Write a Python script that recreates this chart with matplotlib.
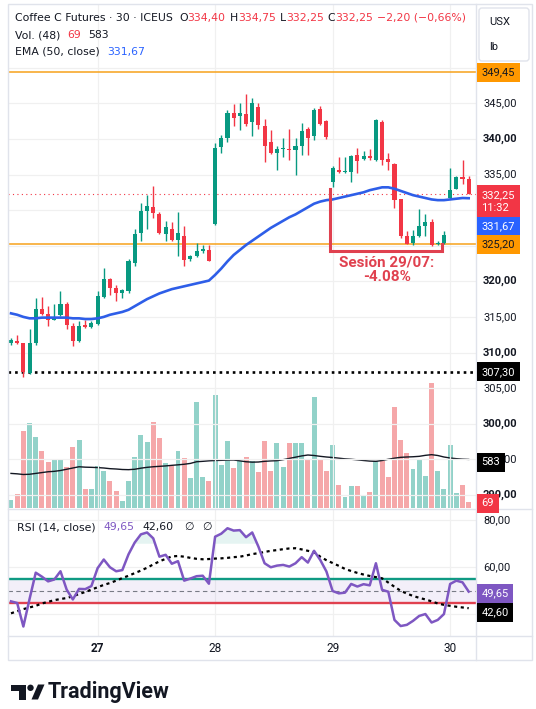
"""Coffee C Futures 30-min chart (TradingView style): candles, EMA50, volume and RSI panes."""
import matplotlib
matplotlib.use("Agg")

import matplotlib.pyplot as plt
import matplotlib.patches as mpatches
import matplotlib.transforms as mtransforms
import numpy as np

plt.rcParams["font.family"] = ["Roboto", "DejaVu Sans"]

W, H = 536, 709
UP, DOWN = "#089981", "#f23645"
VOL_UP, VOL_DOWN = "#92d2c9", "#f5a7a9"
INK = "#131722"
GRID = "#f0f0f0"

# 30-minute bars, oldest first
opens = [311.3, 311.6, 311.3, 307.1, 311.3, 316.1, 315.4, 314.6, 315.2, 316.8,
         313.7, 311.6, 313.8, 313.6, 314.0, 317.8, 320.3, 319.0, 318.4, 318.7,
         322.6, 326.8, 329.9, 330.5, 329.5, 326.7, 327.4, 325.8, 326.4, 323.1,
         323.5, 324.3, 324.4, 328.0, 338.9, 340.1, 343.7, 343.2, 343.5, 342.4,
         344.5, 341.8, 339.5, 338.0, 338.6, 338.6, 338.4, 339.0, 341.4, 340.4,
         344.2, 342.5, 334.0, 335.7, 335.3, 335.3, 337.8, 337.2, 337.6, 337.0,
         342.4, 337.2, 336.5, 331.5, 326.4, 325.4, 326.3, 327.7, 328.3, 325.2,
         325.4, 331.7, 333.0, 334.6, 334.4]
highs = [312.0, 312.5, 311.4, 313.3, 317.6, 317.8, 316.5, 316.8, 318.6, 317.1,
         314.2, 314.4, 314.6, 314.4, 318.6, 321.8, 320.4, 319.5, 318.9, 323.1,
         327.3, 331.0, 332.1, 333.4, 329.8, 328.5, 328.3, 329.7, 327.7, 323.7,
         325.4, 325.1, 325.1, 339.4, 340.6, 344.1, 344.9, 345.0, 346.3, 345.8,
         345.0, 342.8, 341.3, 339.0, 340.1, 341.4, 340.1, 342.2, 341.7, 344.3,
         344.6, 342.6, 336.2, 337.5, 337.5, 337.7, 338.7, 338.3, 338.6, 342.8,
         342.6, 338.0, 336.6, 331.6, 327.1, 327.2, 330.1, 329.4, 328.7, 325.7,
         327.0, 335.9, 334.8, 337.0, 334.75]
lows = [311.0, 311.2, 306.6, 307.0, 311.0, 315.3, 313.7, 314.5, 315.1, 313.3,
        310.9, 311.5, 313.5, 313.4, 313.8, 317.6, 318.1, 317.3, 317.6, 318.3,
        322.1, 325.7, 327.3, 328.9, 326.7, 325.7, 325.6, 323.6, 322.2, 322.9,
        323.4, 324.0, 322.8, 327.9, 338.0, 339.6, 341.8, 341.3, 341.8, 340.4,
        341.4, 336.8, 337.9, 335.6, 337.5, 337.1, 335.0, 337.8, 337.8, 339.9,
        342.0, 340.0, 333.2, 335.2, 335.2, 334.0, 335.2, 337.1, 337.0, 336.9,
        336.4, 335.7, 330.3, 326.1, 325.2, 325.1, 326.2, 326.3, 324.9, 325.1,
        325.3, 331.5, 332.9, 333.7, 332.25]
closes = [311.8, 311.4, 307.2, 311.3, 316.1, 315.4, 314.5, 314.9, 316.8, 313.8,
          311.6, 313.7, 313.6, 314.2, 318.0, 320.3, 319.0, 318.4, 318.8, 322.9,
          326.7, 329.9, 330.6, 329.6, 326.8, 327.6, 325.8, 326.8, 323.0, 323.6,
          324.3, 324.5, 322.9, 338.7, 340.1, 343.7, 342.9, 343.6, 342.1, 345.0,
          341.9, 339.0, 338.0, 338.6, 338.7, 338.5, 339.0, 341.1, 340.1, 344.0,
          342.1, 340.3, 335.9, 335.3, 335.5, 337.6, 336.9, 337.6, 337.3, 342.6,
          337.0, 336.7, 331.4, 326.4, 325.3, 326.3, 327.7, 328.3, 325.1, 325.4,
          326.5, 332.8, 334.6, 334.3, 332.25]
volumes = [97, 168, 920, 1024, 856, 688, 548, 592, 592, 496,
           736, 820, 224, 224, 508, 448, 320, 200, 80, 328,
           616, 880, 788, 1036, 836, 536, 504, 680, 596, 356,
           1276, 376, 320, 1352, 520, 800, 476, 560, 616, 560,
           428, 800, 448, 776, 488, 776, 776, 776, 576, 1328,
           576, 440, 760, 280, 128, 268, 268, 148, 196, 560,
           560, 376, 1216, 820, 664, 468, 576, 388, 1504, 448,
           228, 760, 176, 280, 69]
vol_ma = [415, 410, 402, 405, 415, 425, 435, 440, 450, 465,
          480, 495, 490, 488, 485, 480, 472, 468, 462, 460,
          465, 478, 488, 495, 500, 505, 512, 518, 525, 535,
          555, 560, 566, 570, 572, 575, 576, 566, 555, 550,
          552, 560, 565, 568, 580, 595, 610, 625, 636, 630,
          620, 612, 606, 598, 590, 585, 578, 570, 563, 560,
          570, 585, 598, 608, 612, 615, 620, 632, 640, 630,
          612, 600, 592, 586, 583]
ema50 = [315.5, 315.3, 315.0, 314.8, 314.8, 314.9, 314.9, 314.9, 314.9, 314.9,
         314.8, 314.8, 314.7, 314.7, 314.8, 315.0, 315.3, 315.5, 315.7, 316.0,
         316.5, 317.0, 317.5, 317.9, 318.3, 318.6, 318.9, 319.1, 319.3, 319.5,
         319.7, 319.9, 320.1, 320.9, 321.8, 322.8, 323.7, 324.4, 325.1, 325.7,
         326.3, 326.9, 327.5, 328.0, 328.5, 329.0, 329.4, 329.9, 330.4, 330.9,
         331.2, 331.4, 331.5, 331.7, 331.9, 332.1, 332.3, 332.5, 332.8, 333.0,
         333.2, 333.2, 333.0, 332.7, 332.4, 332.1, 331.9, 331.7, 331.5, 331.4,
         331.4, 331.5, 331.6, 331.7, 331.67]
rsi = [45.5, 44.8, 34.8, 46.5, 57.7, 56.0, 54.0, 54.8, 58.3, 50.5,
       46.3, 50.8, 50.7, 52.0, 59.6, 63.3, 60.0, 58.3, 58.8, 65.5,
       70.5, 74.0, 74.8, 72.3, 64.5, 65.3, 61.5, 62.6, 54.3, 55.2,
       56.2, 56.4, 53.0, 73.0, 74.3, 76.6, 75.6, 75.8, 72.8, 74.8,
       68.8, 61.7, 60.0, 60.7, 61.0, 60.3, 61.7, 64.3, 62.0, 67.0,
       63.1, 58.2, 49.9, 48.9, 49.2, 52.9, 51.8, 52.8, 52.3, 61.7,
       50.4, 49.6, 37.6, 35.0, 35.5, 37.2, 39.3, 40.1, 36.5, 37.6,
       40.1, 52.9, 54.3, 53.6, 49.65]
rsi_ma = [40.4, 41.3, 42.2, 42.9, 43.6, 44.6, 45.3, 46.0, 46.5, 46.9,
          47.7, 48.6, 49.5, 50.5, 51.5, 52.5, 53.3, 54.3, 55.4, 56.4,
          57.5, 58.6, 59.8, 61.2, 62.5, 63.6, 64.6, 64.8, 64.5, 64.0,
          63.6, 63.4, 63.5, 63.7, 63.8, 64.0, 64.3, 64.5, 65.0, 65.6,
          66.0, 66.5, 67.0, 67.3, 67.7, 68.0, 68.1, 67.6, 67.0, 66.4,
          64.5, 63.0, 61.8, 60.6, 59.3, 58.4, 57.6, 56.9, 56.3, 55.8,
          55.3, 53.5, 51.7, 50.0, 48.8, 47.8, 47.0, 46.3, 45.5, 44.6,
          44.0, 43.6, 43.2, 42.9, 42.60]

day_ticks = [14, 33, 52, 71]
day_labels = ["27", "28", "29", "30"]
price_labels = [350, 345, 340, 335, 320, 315, 310, 305, 300, 295, 290]
rsi_labels = [80, 60]
rsi_grid = [80, 60, 40]
LEVEL_HIGH, LEVEL_LOW, LEVEL_BOTTOM = 349.45, 325.20, 307.30
SESSION_START, SESSION_END = 52, 70

idx = np.arange(len(closes))
o, h, l, c = map(np.asarray, (opens, highs, lows, closes))
up = c >= o

fig = plt.figure(figsize=(W / 100, H / 100), dpi=100)


def rect(x0, y0, x1, y1):
    return [x0 / W, 1 - y1 / H, (x1 - x0) / W, (y1 - y0) / H]


# bar i sits at pixel 11 + 6.185*i; panes span x 8..476
X0, X1, PX0, PDX = 8, 476, 11.0, 6.185
xlim = ((X0 - PX0) / PDX, (X1 - PX0) / PDX)

ax_vol = fig.add_axes(rect(X0, 4, X1, 508))
ax = fig.add_axes(rect(X0, 4, X1, 508), sharex=ax_vol)
ax_rsi = fig.add_axes(rect(X0, 508.5, X1, 636), sharex=ax_vol)
ax_fig = fig.add_axes([0, 0, 1, 1], zorder=10)
for a in (ax_vol, ax, ax_rsi, ax_fig):
    a.set_axis_off()
ax_vol.set_xlim(*xlim)
ax.set_ylim(288.16, 358.95)
ax_vol.set_ylim(0, 6048)
ax_rsi.set_ylim(30.76, 85.0)
ax_fig.set_xlim(0, W)
ax_fig.set_ylim(H, 0)

# grid
for p in range(290, 355, 5):
    ax.axhline(p, color=GRID, lw=0.9, zorder=0)
for v in rsi_grid:
    ax_rsi.axhline(v, color=GRID, lw=0.9, zorder=0)
for d in day_ticks:
    ax.axvline(d, color=GRID, lw=0.9, zorder=0)
    ax_rsi.axvline(d, color=GRID, lw=0.9, zorder=0)

# volume
ax_vol.bar(idx, volumes, width=0.8, color=np.where(up, VOL_UP, VOL_DOWN), zorder=1)
ax_vol.plot(idx, vol_ma, color=INK, lw=1.0, zorder=2)

# price
ax.axhline(LEVEL_HIGH, color="#f7a21b", lw=1.1, zorder=1)
ax.axhline(LEVEL_LOW, color="#f7a21b", lw=1.1, zorder=1)
ax.axhline(LEVEL_BOTTOM, color="black", lw=1.9, ls=(0, (1, 1.5)), zorder=1)
ax.axhline(closes[-1], color=DOWN, lw=0.8, ls=(0, (1, 3)), zorder=1)
col = np.where(up, UP, DOWN)
ax.vlines(idx, l, h, colors=col, lw=1.0, zorder=3)
ax.bar(idx, np.maximum(np.abs(c - o), 0.15), bottom=np.minimum(o, c), width=0.66,
       color=col, zorder=4)
ax.plot(idx, ema50, color="#2e5ee8", lw=1.9, zorder=5)

# session annotation
left, right = SESSION_START - 0.35, SESSION_END - 0.35
bottom = min(lows[SESSION_START:SESSION_END + 1]) - 0.65
ax.plot([left, left, right, right],
        [lows[SESSION_START] - 0.2, bottom, bottom, lows[SESSION_END - 1] + 0.2],
        color="#e0414f", lw=2.2, solid_joinstyle="miter", zorder=6)
ax.text(60.8, 321.6, "Sesión 29/07:\n-4.08%", ha="center", va="center",
        color="#e0414f", fontsize=11, fontweight="bold", linespacing=1.05, zorder=6)

# RSI
ax_rsi.axhspan(45, 55, color="#7e57c2", alpha=0.09, lw=0, zorder=0)
ax_rsi.axhline(55, color="#0f9a83", lw=1.7, zorder=2)
ax_rsi.axhline(45, color="#e0414f", lw=1.7, zorder=2)
ax_rsi.axhline(50, color="#787b86", lw=0.8, ls=(0, (4, 3)), zorder=2)
r = np.asarray(rsi)
ax_rsi.fill_between(idx, r, 70, where=r > 70, interpolate=True, color=UP, alpha=0.1, lw=0)
ax_rsi.plot(idx, rsi_ma, color="black", lw=1.6, ls=(0, (1.4, 1.6)), zorder=3)
ax_rsi.plot(idx, rsi, color="#7e57c2", lw=1.8, zorder=4)

# frame and separators
ax_fig.add_patch(mpatches.Rectangle((8, 4), 524, 656, fill=False, ec="#e0e3eb", lw=1))
ax_fig.plot([476, 476], [4, 660], color="#e0e3eb", lw=1)
ax_fig.plot([8, 532], [508.5, 508.5], color="#e0e3eb", lw=1)
ax_fig.plot([8, 532], [636, 636], color="#e0e3eb", lw=1)

price_tf = mtransforms.blended_transform_factory(ax_fig.transData, ax.transData)
vol_tf = mtransforms.blended_transform_factory(ax_fig.transData, ax_vol.transData)
rsi_tf = mtransforms.blended_transform_factory(ax_fig.transData, ax_rsi.transData)
time_tf = mtransforms.blended_transform_factory(ax_rsi.transData, ax_fig.transData)

for p in price_labels:
    ax_fig.text(483, p, f"{p},00", transform=price_tf, va="center", ha="left",
                fontsize=8, color=INK, fontweight="bold" if p % 10 == 0 else "normal")
for v in rsi_labels:
    ax_fig.text(483, v, f"{v},00", transform=rsi_tf, va="center", ha="left",
                fontsize=8, color=INK)


def badge(y, label, fc, tc, tf, dy=0, ls=1.2):
    t = mtransforms.offset_copy(tf, fig=fig, y=dy, units="dots")
    ax_fig.text(481.5, y, label, transform=t, va="center", ha="left", fontsize=8,
                color=tc, linespacing=ls, zorder=6,
                bbox=dict(boxstyle="square,pad=0.42", fc=fc, ec="none"))


badge(LEVEL_HIGH, "349,45", "#ff9800", INK, price_tf, dy=-1)
badge(closes[-1], "332,25\n11:32", DOWN, "white", price_tf, dy=-7.5, ls=1.45)
badge(ema50[-1], "331,67", "#2962ff", "white", price_tf, dy=-28)
badge(LEVEL_LOW, "325,20", "#ff9800", INK, price_tf)
badge(LEVEL_BOTTOM, "307,30", "black", "white", price_tf)
badge(vol_ma[-1], "583", "black", "white", vol_tf, dy=-3)
badge(volumes[-1], f"{volumes[-1]}", DOWN, "white", vol_tf, dy=-1)
badge(rsi[-1], "49,65", "#7e57c2", "white", rsi_tf, dy=-2)
badge(rsi_ma[-1], "42,60", "black", "white", rsi_tf, dy=-4)

for d, lab in zip(day_ticks, day_labels):
    ax_fig.text(d, 648, lab, transform=time_tf, ha="center", va="center", fontsize=8.5,
                color=INK, fontweight="bold" if lab == "27" else "normal")

# unit box
ax_fig.add_patch(mpatches.FancyBboxPatch((479, 8), 50, 53, boxstyle="round,pad=0,rounding_size=3",
                                         fc="white", ec="#e0e3eb", lw=1, zorder=7))
ax_fig.text(489, 22, "USX", fontsize=8, color=INK, va="center", zorder=8)
ax_fig.text(489, 47, "lb", fontsize=8, color=INK, va="center", zorder=8)

LEGEND_FONT = ["DejaVu Sans"]


def chain(x, y, pieces, size=7.8):
    """Legend line of coloured pieces; each piece is (text, colour, gap in px)."""
    t = ax_fig.text(x, y, pieces[0][0], color=pieces[0][1], fontsize=size,
                    va="center", ha="left", family=LEGEND_FONT)
    for s, colr, gap in pieces[1:]:
        t = ax_fig.annotate(s, xy=(1, 0), xycoords=t, xytext=(gap * 0.72, 0),
                            textcoords="offset points", color=colr, fontsize=size,
                            va="bottom", ha="left", family=LEGEND_FONT)


chain(15, 18, [("Coffee C Futures · 30 · ICEUS", INK), ("O", INK, 6), ("334,40", DOWN, 0),
               ("H", INK, 4), ("334,75", DOWN, 0), ("L", INK, 4), ("332,25", DOWN, 0),
               ("C", INK, 4), ("332,25", DOWN, 0), ("−2,20 (−0,66%)", DOWN, 4)])
chain(15, 35, [("Vol. (48)", INK), ("69", DOWN, 7), ("583", INK, 7)])
chain(15, 52, [("EMA (50, close)", INK), ("331,67", "#2962ff", 7)])
chain(17, 527, [("RSI (14, close)", INK), ("49,65", "#7e57c2", 8), ("42,60", INK, 8),
                ("∅", INK, 10), ("∅", INK, 9)])

# TradingView logo
ax_fig.add_patch(mpatches.Polygon([(11, 684.5), (26, 684.5), (26, 699.5), (19, 699.5),
                                   (19, 690.5), (11, 690.5)], fc=INK, ec="none"))
ax_fig.add_patch(mpatches.Circle((30.5, 687.8), 3.2, fc=INK, ec="none"))
ax_fig.add_patch(mpatches.Polygon([(31.5, 699.5), (38, 699.5), (44.5, 684.5), (38, 684.5)],
                                  fc=INK, ec="none"))
ax_fig.text(48, 692, "TradingView", fontsize=15.5, fontweight="bold", color=INK, va="center")

fig.savefig("out.png", dpi=100, facecolor="white")
